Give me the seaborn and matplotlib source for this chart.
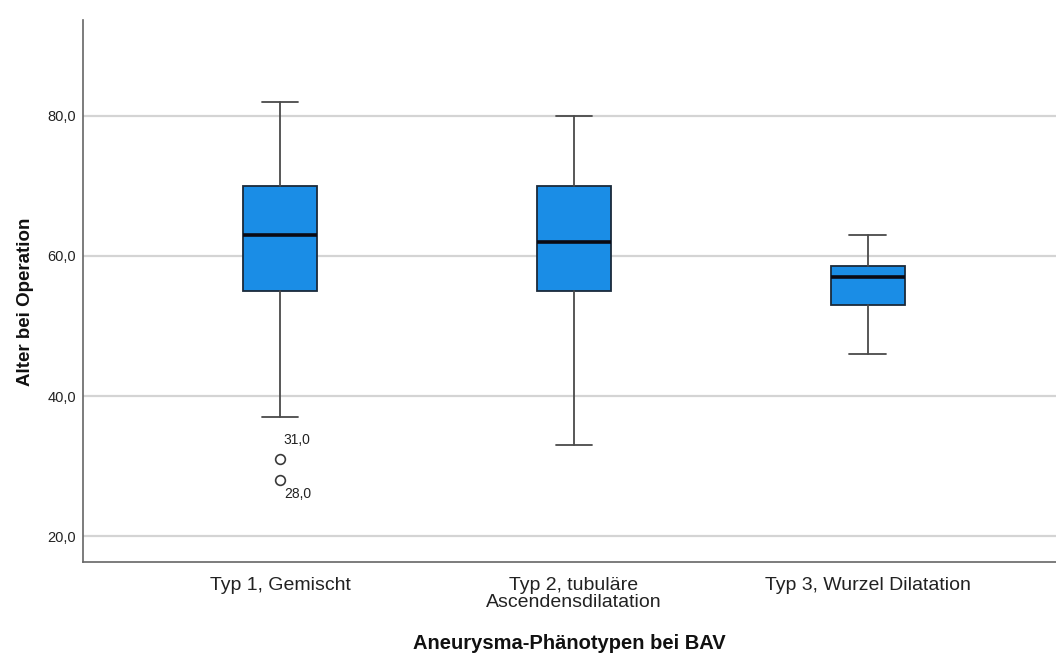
import matplotlib
matplotlib.use("Agg")
import matplotlib.pyplot as plt
import seaborn as sns

# Age at operation by aneurysm phenotype (summary statistics per group)
categories = ["Typ 1, Gemischt", "Typ 2, tubuläre\nAscendensdilatation", "Typ 3, Wurzel Dilatation"]
whisker_low = [37.0, 33.0, 46.0]
q1 = [55.0, 55.0, 53.0]
median = [63.0, 62.0, 57.0]
q3 = [70.0, 70.0, 58.5]
whisker_high = [82.0, 80.0, 63.0]
outliers = [[31.0, 28.0], [], []]
y_ticks = [20.0, 40.0, 60.0, 80.0]

sns.set_theme(style="white")
plt.rcParams["font.family"] = ["Liberation Sans", "DejaVu Sans"]

fig = plt.figure(figsize=(10.56, 6.57), dpi=100)
ax = fig.add_axes([83 / 1056, 1 - 562 / 657, 1 - 83 / 1056, (562 - 20) / 657])

stats = []
for i, name in enumerate(categories):
    stats.append({
        "label": name,
        "whislo": whisker_low[i],
        "q1": q1[i],
        "med": median[i],
        "q3": q3[i],
        "whishi": whisker_high[i],
        "fliers": outliers[i],
    })

positions = list(range(len(categories)))
ax.bxp(
    stats,
    positions=positions,
    widths=0.25,
    patch_artist=True,
    showfliers=True,
    boxprops=dict(facecolor="#1a8de6", edgecolor="#1a2a3a", linewidth=1.3),
    medianprops=dict(color="#0a0a14", linewidth=2.6),
    whiskerprops=dict(color="#4a4a4a", linewidth=1.3),
    capprops=dict(color="#4a4a4a", linewidth=1.3),
    capwidths=0.125,
    flierprops=dict(marker="o", markersize=7, markerfacecolor="none",
                    markeredgecolor="#3a3a3a", markeredgewidth=1.2),
    zorder=3,
)

# Value labels next to the outliers
for i, vals in enumerate(outliers):
    for k, v in enumerate(vals):
        label = f"{v:.1f}".replace(".", ",")
        if k == 0:
            ax.annotate(label, (positions[i], v), xytext=(2.5, 9), textcoords="offset points",
                        fontsize=10, color="#222222", ha="left", va="bottom")
        else:
            ax.annotate(label, (positions[i], v), xytext=(3, -5), textcoords="offset points",
                        fontsize=10, color="#222222", ha="left", va="top")

ax.set_xlim(-0.67, 2.64)
ax.set_ylim(16.3, 93.7)
ax.set_yticks(y_ticks)
ax.set_yticklabels([f"{t:.1f}".replace(".", ",") for t in y_ticks], fontsize=10.5, color="#222222")
ax.set_xticks(positions)
ax.set_xticklabels(categories, fontsize=14, color="#222222", linespacing=0.95)
ax.tick_params(axis="both", length=0)
ax.tick_params(axis="x", pad=11)
ax.tick_params(axis="y", pad=5)

ax.yaxis.grid(True, color="#d4d4d4", linewidth=1.6, zorder=0)
ax.xaxis.grid(False)
ax.set_axisbelow(True)

for side in ["top", "right"]:
    ax.spines[side].set_visible(False)
for side in ["left", "bottom"]:
    ax.spines[side].set_color("#666666")
    ax.spines[side].set_linewidth(1.2)

ax.set_ylabel("Alter bei Operation", fontsize=13.5, fontweight="bold", color="#111111")
ax.yaxis.set_label_coords(-0.05, 0.48)
ax.set_xlabel("Aneurysma-Phänotypen bei BAV", fontsize=14.5, fontweight="bold", color="#111111", labelpad=17)

fig.savefig("out.png", dpi=100, facecolor="white")
